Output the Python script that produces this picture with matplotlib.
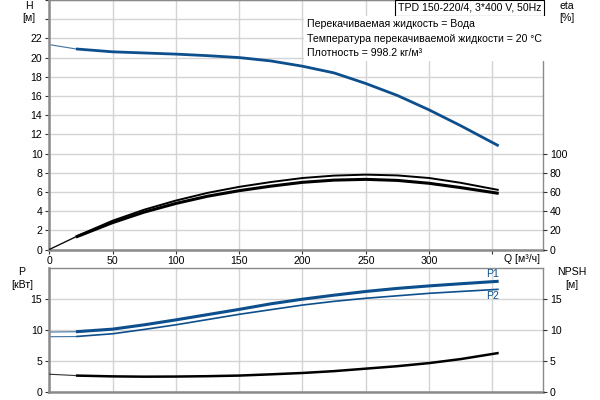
import matplotlib
matplotlib.use('Agg')
import matplotlib.pyplot as plt
import numpy as np

plt.rcParams['font.family'] = ['Liberation Sans', 'DejaVu Sans']
plt.rcParams['font.size'] = 7.6

# расход, м3/ч
q = [0, 21, 50, 75, 100, 125, 150, 175, 200, 225, 250, 275, 300, 325, 355]
# напор, м
head = [21.35, 20.9, 20.6, 20.48, 20.36, 20.2, 20.0, 19.65, 19.1, 18.4, 17.3, 16.05, 14.55, 12.9, 10.8]
# КПД, %
eta_1 = [0, 13.5, 30, 41.5, 51, 59, 65.3, 70.3, 74.5, 77, 78, 77.2, 74.5, 69.5, 62]
eta_2 = [0, 13, 28, 39, 48, 55.5, 61.3, 66, 70, 72.3, 73.1, 72, 69, 64.5, 58.5]
# мощность, кВт
p1 = [9.63, 9.68, 10.1, 10.8, 11.6, 12.45, 13.3, 14.2, 14.95, 15.6, 16.2, 16.7, 17.1, 17.45, 17.85]
p2 = [8.87, 8.9, 9.35, 10.05, 10.8, 11.65, 12.5, 13.25, 14.0, 14.6, 15.1, 15.5, 15.9, 16.2, 16.55]
# NPSH, м
npsh = [2.8, 2.58, 2.45, 2.4, 2.42, 2.48, 2.58, 2.78, 3.0, 3.3, 3.7, 4.1, 4.6, 5.25, 6.24]

x_ticks = [0, 50, 100, 150, 200, 250, 300, 350]
x_labels = ['0', '50', '100', '150', '200', '250', '300', '']

BLUE = '#0c4f8c'
GRID = '#d4d4d4'
SPINE = '#8a8a8a'

fig = plt.figure(figsize=(6, 4), dpi=100)
W, H = 600.0, 400.0
left, right = 49.3 / W, 543 / W

ax1 = fig.add_axes([left, 1 - 249.5 / H, right - left, 249.5 / H])
ax2 = fig.add_axes([left, 1 - 391.5 / H, right - left, (391.5 - 268) / H])


def style(ax, twin):
    ax.set_xlim(0, 390)
    ax.set_xticks(x_ticks)
    ax.grid(True, color=GRID, linewidth=1)
    ax.set_axisbelow(True)
    for s in ax.spines.values():
        s.set_color(SPINE)
        s.set_linewidth(1)
    ax.spines['left'].set_linewidth(1.8)
    ax.spines['bottom'].set_linewidth(1.8)
    ax.tick_params(direction='out', length=3, color='#333333', labelsize=7.6, pad=2)
    twin.tick_params(direction='out', length=3, color='#333333', labelsize=7.6, pad=2)
    for s in twin.spines.values():
        s.set_visible(False)


def draw(ax, y, color, lw):
    # тонкий участок до 21 м3/ч, дальше основная кривая
    ax.plot(q[:2], y[:2], color=color, lw=0.8, alpha=0.8, solid_capstyle='butt')
    ax.plot(q[1:], y[1:], color=color, lw=lw, solid_capstyle='butt')


# верхний график: H и eta
ax1r = ax1.twinx()
style(ax1, ax1r)
ax1.set_ylim(0, 26)
ax1.set_yticks(np.arange(0, 27, 2))
ax1.set_yticklabels([str(v) if v <= 22 else '' for v in range(0, 27, 2)])
ax1.set_xticklabels(x_labels)
ax1r.set_ylim(0, 260)
ax1r.set_yticks(np.arange(0, 101, 20))

draw(ax1, head, BLUE, 2)
draw(ax1r, eta_1, 'black', 1.4)
draw(ax1r, eta_2, 'black', 2.2)

# нижний график: P1, P2, NPSH
ax2r = ax2.twinx()
style(ax2, ax2r)
ax2.set_ylim(0, 20)
ax2.set_yticks([0, 5, 10, 15])
ax2.set_xticklabels([])
ax2.tick_params(axis='x', length=0)
ax2r.set_ylim(0, 20)
ax2r.set_yticks([0, 5, 10, 15])

draw(ax2, p1, BLUE, 2.2)
draw(ax2, p2, BLUE, 1.2)
draw(ax2r, npsh, 'black', 1.8)

ax2.text(q[-1], p1[-1] + 0.3, 'P1', color=BLUE, ha='right', va='bottom')
ax2.text(q[-1], p2[-1] - 0.3, 'P2', color=BLUE, ha='right', va='top')

# подписи осей
def ftxt(x, y, s, **kw):
    fig.text(x / W, 1 - y / H, s, **kw)

ftxt(29, 6, 'H', ha='center', va='center')
ftxt(29, 18, '[м]', ha='center', va='center')
ftxt(567, 6, 'eta', ha='center', va='center')
ftxt(567, 18, '[%]', ha='center', va='center')
ftxt(22, 272, 'P', ha='center', va='center')
ftxt(22, 285, '[кВт]', ha='center', va='center')
ftxt(572, 272, 'NPSH', ha='center', va='center')
ftxt(572, 285, '[м]', ha='center', va='center')
ftxt(522, 259, 'Q [м³/ч]', ha='center', va='center')

ftxt(541, 8, 'TPD 150-220/4, 3*400 V, 50Hz', ha='right', va='center',
     bbox=dict(facecolor='white', edgecolor='black', linewidth=0.8, pad=1.8))
ftxt(307, 38.5,
     'Перекачиваемая жидкость = Вода\n'
     'Температура перекачиваемой жидкости = 20 °C\n'
     'Плотность = 998.2 кг/м³',
     ha='left', va='center', linespacing=1.6,
     bbox=dict(facecolor='white', edgecolor='none', pad=2))

fig.savefig('out.png', dpi=100)
